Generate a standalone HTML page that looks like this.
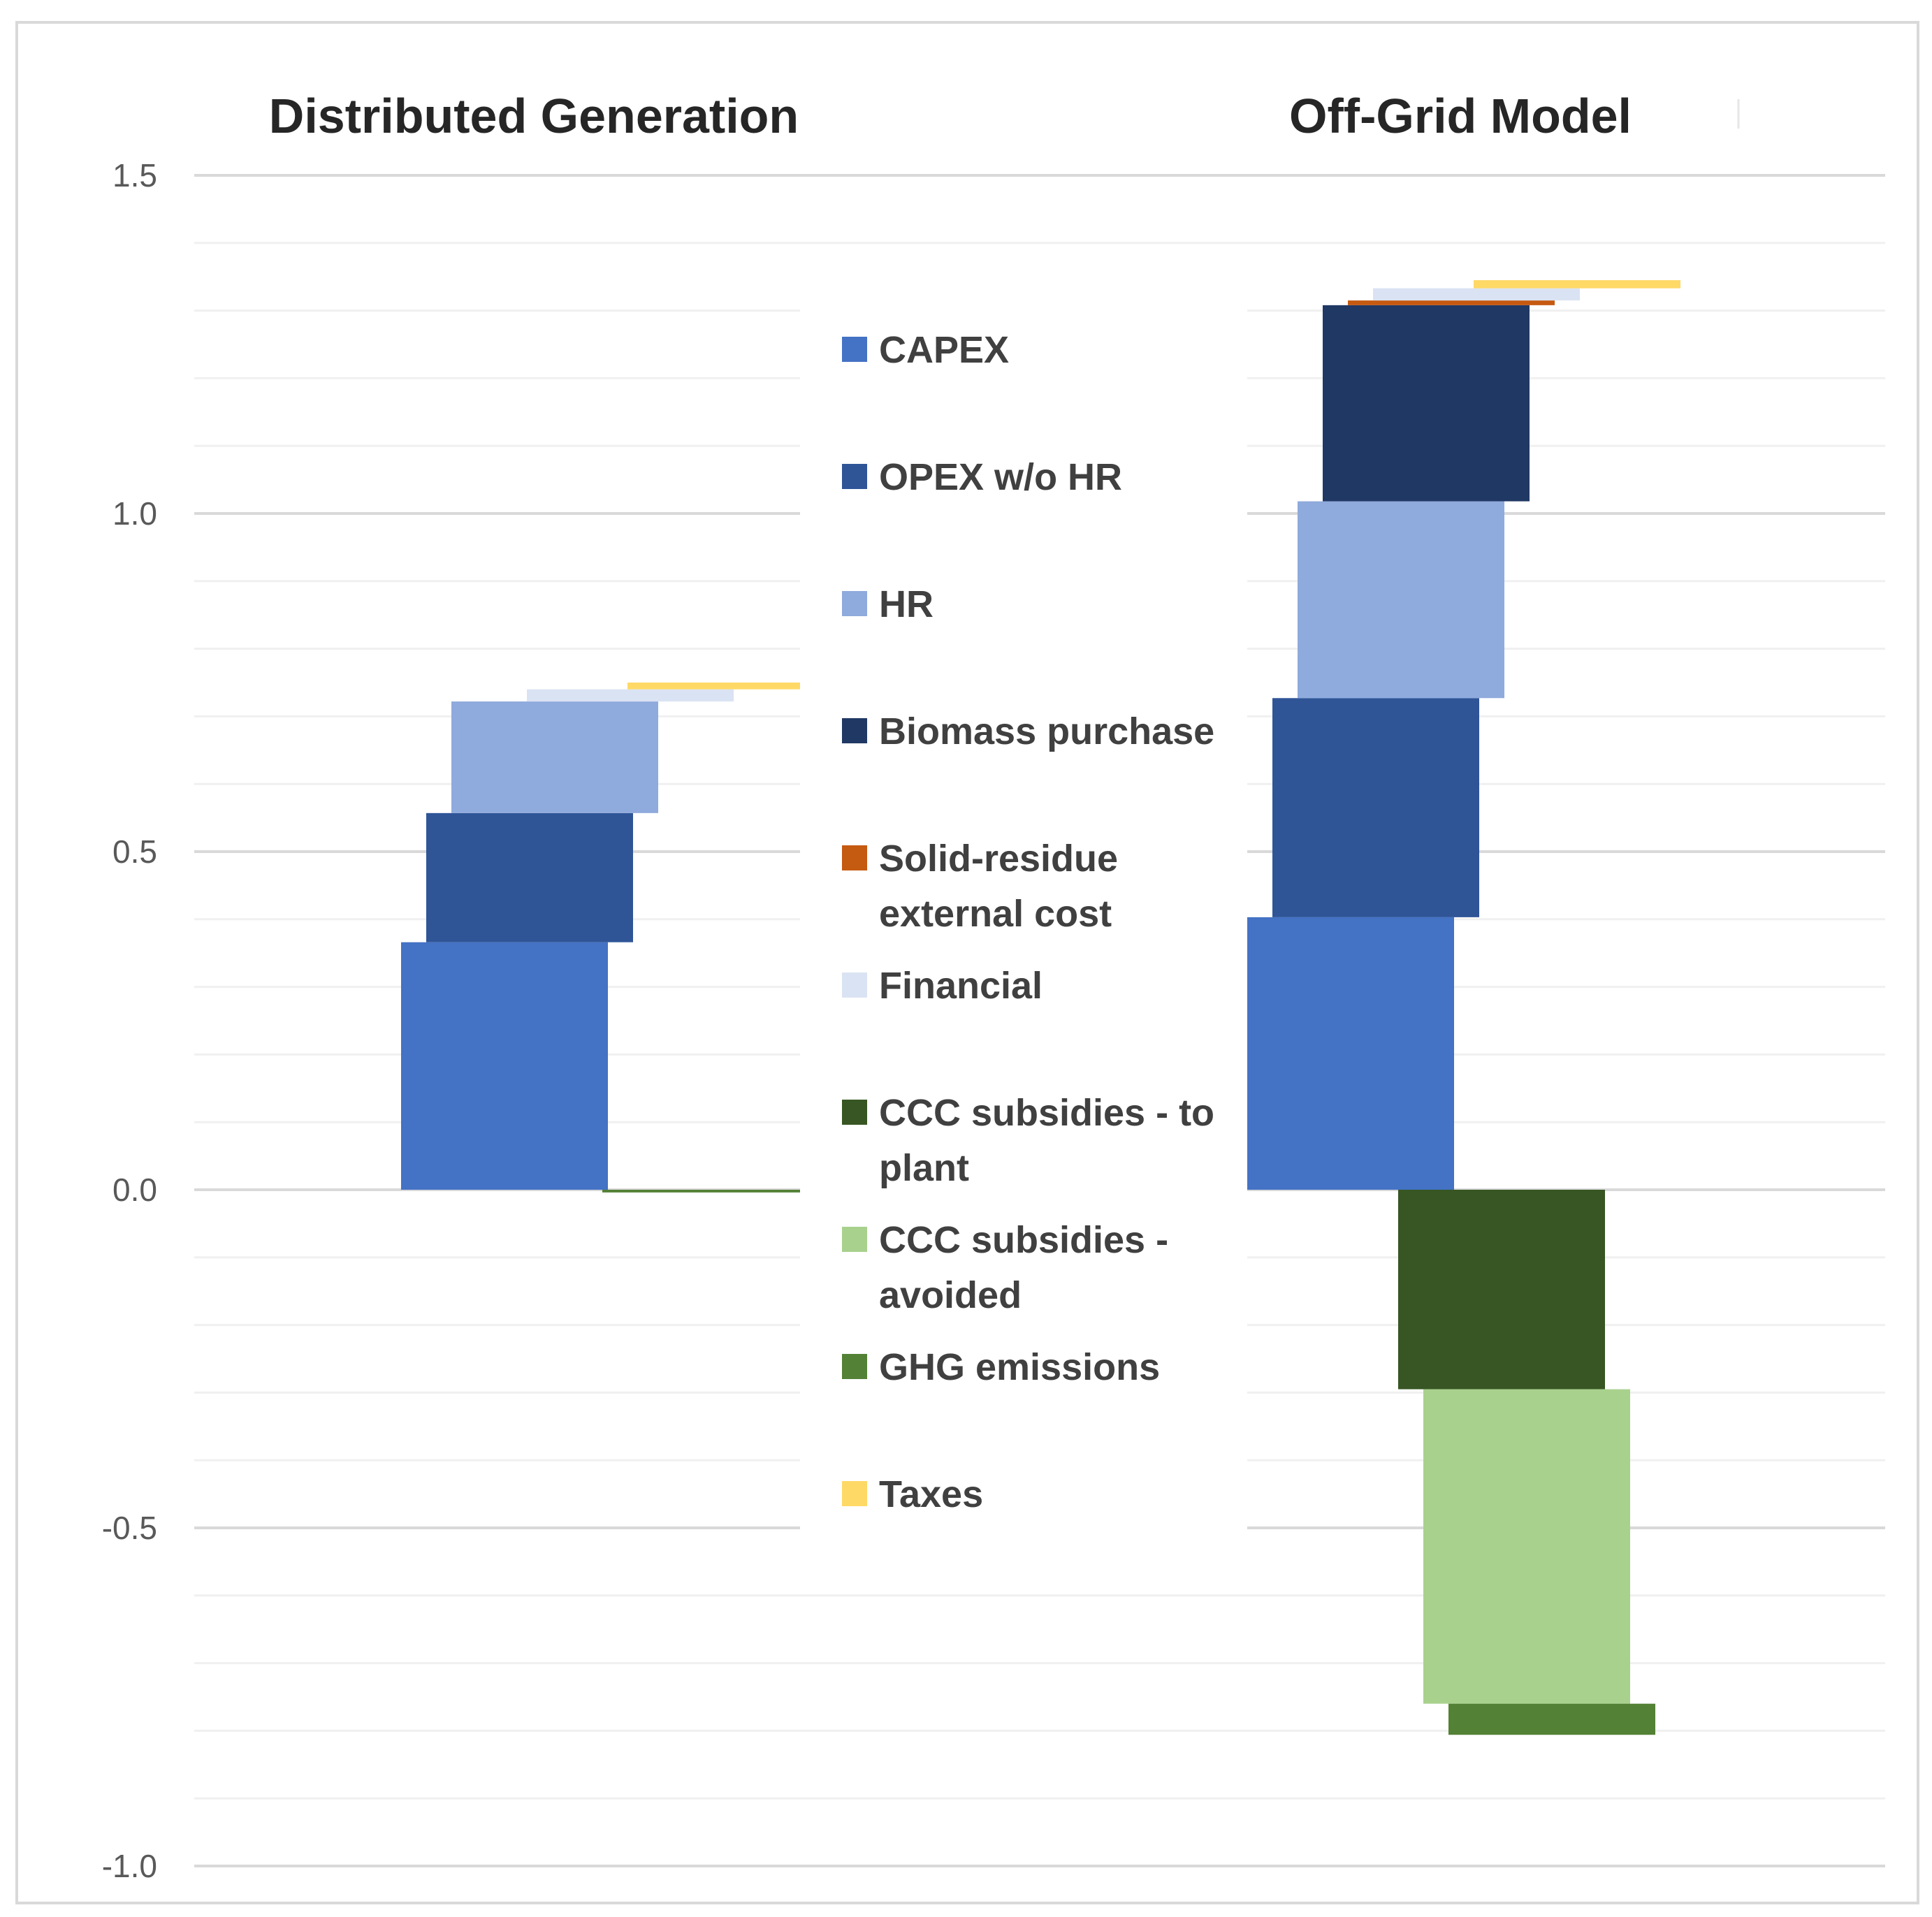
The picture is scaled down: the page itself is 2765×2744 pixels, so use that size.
<!DOCTYPE html>
<html><head><meta charset="utf-8"><style>
html,body{margin:0;padding:0;background:#fff;}
svg{display:block;}
text{font-family:"Liberation Sans",sans-serif;}
</style></head><body>
<svg id="chart" width="2765" height="2744" viewBox="0 0 2765 2744" xmlns="http://www.w3.org/2000/svg">
<rect x="24" y="32" width="2721" height="2692" fill="#fff" stroke="#d9d9d9" stroke-width="4"/>
<g id="grid"></g>
<g id="bars"></g>
<rect x="1145" y="436" width="640" height="1795" fill="#fff"/>
<text x="764" y="190" text-anchor="middle" font-size="70" font-weight="bold" fill="#262626">Distributed Generation</text>
<text x="2090" y="190" text-anchor="middle" font-size="70" font-weight="bold" fill="#262626">Off-Grid Model</text>
<line x1="2488" y1="142" x2="2488" y2="184" stroke="#e6e6e6" stroke-width="3"/>
<g id="yaxis"></g>
<g id="legend"></g>
</svg>
<script>
const categories = ["CAPEX","OPEX w/o HR","HR","Biomass purchase","Solid-residue external cost","Financial","CCC subsidies - to plant","CCC subsidies - avoided","GHG emissions","Taxes"];
const colors = ["#4472C4","#2F5597","#8FAADC","#203864","#C55A11","#DAE3F3","#375623","#A9D18E","#538135","#FFD966"];
const dgStart = [0, 0.366, 0.557, 0.722, 0.722, 0.722, 0, 0, 0, 0.740];
const dgEnd   = [0.366, 0.557, 0.722, 0.722, 0.722, 0.740, 0, 0, -0.004, 0.750];
const ogStart = [0, 0.403, 0.727, 1.018, 1.308, 1.315, 0, -0.295, -0.760, 1.333];
const ogEnd   = [0.403, 0.727, 1.018, 1.308, 1.315, 1.333, -0.295, -0.760, -0.806, 1.345];
const yTicks = ["-1.0","-0.5","0.0","0.5","1.0","1.5"];
const legendLines = [["CAPEX"],["OPEX w/o HR"],["HR"],["Biomass purchase"],["Solid-residue","external cost"],["Financial"],["CCC subsidies - to","plant"],["CCC subsidies -","avoided"],["GHG emissions"],["Taxes"]];

const NS="http://www.w3.org/2000/svg";
const y0=1703, unit=968;
function yScale(v){return y0 - v*unit;}
function xBar(group,i){return (group===0?574:1785) + i*36;}
const barW=296, gx1=278, gx2=2698;

const grid=document.getElementById('grid');
for(let k=-10;k<=15;k++){
  const v=k/10;
  const ln=document.createElementNS(NS,'line');
  
  
  ln.setAttribute('x1',gx1);ln.setAttribute('x2',gx2);
  ln.setAttribute('y1',yScale(v));ln.setAttribute('y2',yScale(v));
  ln.setAttribute('stroke',k%5===0?'#d9d9d9':'#f0f0f0');
  ln.setAttribute('stroke-width',k%5===0?4:3);
  grid.appendChild(ln);
}
const bars=document.getElementById('bars');
function drawGroup(g,starts,ends,label){
  for(let i=0;i<categories.length;i++){
    let a=yScale(starts[i]), b=yScale(ends[i]);
    let top=Math.min(a,b), h=Math.abs(a-b);
    if(h<0.5) continue;
    if(h<3){h=3;}
    const r=document.createElementNS(NS,'rect');
    
    
    r.setAttribute('x',xBar(g,i));r.setAttribute('y',top);
    r.setAttribute('width',barW);r.setAttribute('height',h);
    r.setAttribute('fill',colors[i]);
    bars.appendChild(r);
  }
}
drawGroup(0,dgStart,dgEnd,'dg');
drawGroup(1,ogStart,ogEnd,'og');

const ya=document.getElementById('yaxis');
yTicks.forEach(t=>{
  const tx=document.createElementNS(NS,'text');
  
  
  tx.setAttribute('x',225);tx.setAttribute('y',yScale(parseFloat(t))+16);
  tx.setAttribute('text-anchor','end');tx.setAttribute('font-size','46');tx.setAttribute('fill','#595959');
  tx.textContent=t;ya.appendChild(tx);
});

const lg=document.getElementById('legend');
legendLines.forEach((lines,i)=>{
  const cy=500+i*182;
  const g=document.createElementNS(NS,'g');
  
  
  const sq=document.createElementNS(NS,'rect');
  
  
  sq.setAttribute('x',1205);sq.setAttribute('y',cy-18);sq.setAttribute('width',36);sq.setAttribute('height',36);
  sq.setAttribute('fill',colors[i]);g.appendChild(sq);
  lines.forEach((l,j)=>{
    const tx=document.createElementNS(NS,'text');
    
    
    tx.setAttribute('x',1258);tx.setAttribute('y',cy+19+j*79);
    tx.setAttribute('font-size','54');tx.setAttribute('font-weight','bold');tx.setAttribute('fill','#404040');
    tx.textContent=l;g.appendChild(tx);
  });
  lg.appendChild(g);
});
</script>
</body></html>
